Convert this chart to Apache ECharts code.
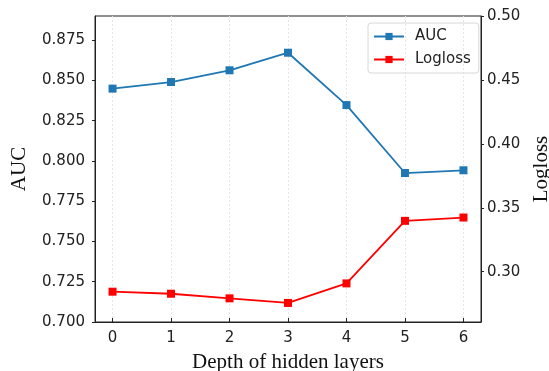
<!DOCTYPE html>
<html>
<head>
<meta charset="utf-8">
<script src="https://cdn.jsdelivr.net/npm/echarts@6/dist/echarts.min.js"></script>
<style>html,body{margin:0;padding:0;background:#fff}#c{width:549px;height:371px}</style>
</head>
<body>
<div id="c"></div>
<script>
const depths = [0, 1, 2, 3, 4, 5, 6];
const auc = [0.8449, 0.8490, 0.8563, 0.8672, 0.8347, 0.7925, 0.7942];
const logloss = [0.2844, 0.2828, 0.2792, 0.2756, 0.2909, 0.3398, 0.3424];
const aucTicks = [0.700, 0.725, 0.750, 0.775, 0.800, 0.825, 0.850, 0.875];
const loglossTicks = [0.30, 0.35, 0.40, 0.45, 0.50];

const chart = echarts.init(document.getElementById('c'), null, {renderer: 'canvas'});
const tickFont = {fontFamily: 'DejaVu Sans', fontSize: 15, color: '#222'};
const titleFont = {fontFamily: 'Liberation Serif', fontSize: 21, color: '#111'};
chart.setOption({
  animation: false,
  backgroundColor: '#fff',
  grid: {left: 95, top: 16, right: 68, bottom: 49, show: true, borderColor: '#222', borderWidth: 1,
         containLabel: false, outerBoundsMode: 'none'},
  legend: {
    left: 368, top: 23, orient: 'vertical',
    itemWidth: 30, itemHeight: 9, itemGap: 8,
    padding: [6, 8, 6, 5],
    borderColor: '#d8d8d8', borderWidth: 1, borderRadius: 3,
    textStyle: {fontFamily: 'DejaVu Sans', fontSize: 15, color: '#222', padding: [0, 0, 0, 6]},
    data: ['AUC', 'Logloss']
  },
  xAxis: {
    type: 'value', min: -0.3, max: 6.3,
    name: 'Depth of hidden layers', nameLocation: 'middle', nameGap: 30,
    nameTextStyle: titleFont,
    axisLine: {show: true, onZero: false, lineStyle: {color: '#222'}},
    axisTick: {show: true, inside: true, length: 4, customValues: depths, lineStyle: {color: '#222'}},
    axisLabel: Object.assign({customValues: depths, margin: 9}, tickFont),
    splitLine: {show: true, lineStyle: {color: '#e6e6e6', type: [2, 2]}}
  },
  yAxis: [{
    type: 'value', min: 0.7, max: 0.89, position: 'left',
    name: 'AUC', nameLocation: 'middle', nameGap: 65, nameTextStyle: titleFont,
    axisLine: {show: true, onZero: false, lineStyle: {color: '#222'}},
    axisTick: {show: true, inside: false, length: 3, customValues: aucTicks, lineStyle: {color: '#222'}},
    axisLabel: Object.assign({customValues: aucTicks, margin: 10, formatter: v => v.toFixed(3)}, tickFont),
    splitLine: {show: false}
  }, {
    type: 'value', min: 0.2607, max: 0.5, position: 'right',
    name: 'Logloss', nameLocation: 'middle', nameGap: 50, nameTextStyle: titleFont,
    axisLine: {show: true, onZero: false, lineStyle: {color: '#222'}},
    axisTick: {show: true, inside: false, length: 3, customValues: loglossTicks, lineStyle: {color: '#222'}},
    axisLabel: Object.assign({customValues: loglossTicks, margin: 6, formatter: v => v.toFixed(2)}, tickFont),
    splitLine: {show: false}
  }],
  series: [{
    name: 'AUC', type: 'line', yAxisIndex: 0,
    data: depths.map((d, i) => [d, auc[i]]),
    symbol: 'rect', symbolSize: 8,
    lineStyle: {color: '#1f77b4', width: 1.8},
    itemStyle: {color: '#1f77b4'}
  }, {
    name: 'Logloss', type: 'line', yAxisIndex: 1,
    data: depths.map((d, i) => [d, logloss[i]]),
    symbol: 'rect', symbolSize: 8,
    lineStyle: {color: '#ff0000', width: 1.8},
    itemStyle: {color: '#ff0000'}
  }]
});
</script>
</body>
</html>
